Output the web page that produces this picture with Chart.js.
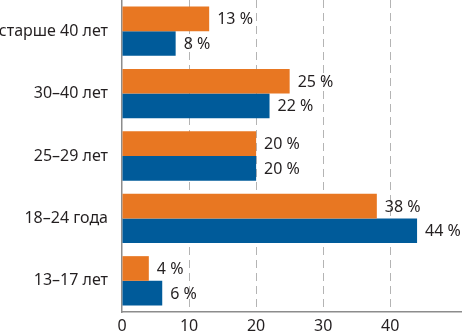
<!DOCTYPE html>
<html>
<head>
<meta charset="utf-8">
<script src="https://cdn.jsdelivr.net/npm/chart.js@4"></script>
<style>
  html, body { margin: 0; padding: 0; background: #fff; }
  #wrap { width: 462px; height: 333px; position: relative; }
</style>
</head>
<body>
<div id="wrap"><canvas id="chartVozrast"></canvas></div>
<script>
// возрастные группы, сверху вниз
const kategorii = ['старше 40 лет', '30–40 лет', '25–29 лет', '18–24 года', '13–17 лет'];
const oranzhevye = [13, 25, 20, 38, 4];
const sinie = [8, 22, 20, 44, 6];
const tiki = [0, 10, 20, 30, 40];

const TEXT = '#231f20';
const FONT = "'Noto Sans', sans-serif";

// подписи "NN %" справа от столбика
const podpisi = {
  id: 'podpisi',
  afterDatasetsDraw(chart) {
    const c = chart.ctx;
    c.save();
    c.fillStyle = TEXT;
    c.font = '16px ' + FONT;
    c.textBaseline = 'middle';
    chart.data.datasets.forEach((ds, i) => {
      chart.getDatasetMeta(i).data.forEach((bar, j) => {
        c.fillText(ds.data[j] + ' %', bar.x + 8, bar.y + 1);
      });
    });
    c.restore();
  },
};

new Chart(document.getElementById('chartVozrast'), {
  type: 'bar',
  data: {
    labels: kategorii,
    datasets: [
      { data: oranzhevye, backgroundColor: '#e87722', categoryPercentage: 0.79, barPercentage: 1 },
      { data: sinie, backgroundColor: '#005b9a', categoryPercentage: 0.79, barPercentage: 1 },
    ],
  },
  options: {
    indexAxis: 'y',
    responsive: true,
    maintainAspectRatio: false,
    animation: false,
    layout: { padding: 0 },
    plugins: { legend: { display: false }, tooltip: { enabled: false } },
    scales: {
      x: {
        min: 0,
        max: 50.7,
        afterBuildTicks: (s) => { s.ticks = tiki.map((v) => ({ value: v })); },
        afterFit: (s) => { s.height = 21; s.paddingLeft = 0; s.paddingRight = 0; },
        grid: {
          color: (ctx) => (ctx.tick && ctx.tick.value === 0 ? 'rgba(0,0,0,0)' : '#b4b4b4'),
          lineWidth: 1,
          drawTicks: false,
        },
        border: { display: true, color: '#8c8c8c', width: 1.5, dash: [8, 5] },
        ticks: { color: TEXT, font: { family: FONT, size: 16 }, padding: 5, maxRotation: 0 },
      },
      y: {
        afterFit: (s) => { s.width = 122; s.paddingTop = 0; s.paddingBottom = 0; },
        grid: { display: false, drawTicks: false },
        border: { display: true, color: '#8c8c8c', width: 1.5 },
        ticks: { color: TEXT, font: { family: FONT, size: 16 }, padding: 14 },
      },
    },
  },
  plugins: [podpisi],
});
</script>
</body>
</html>
